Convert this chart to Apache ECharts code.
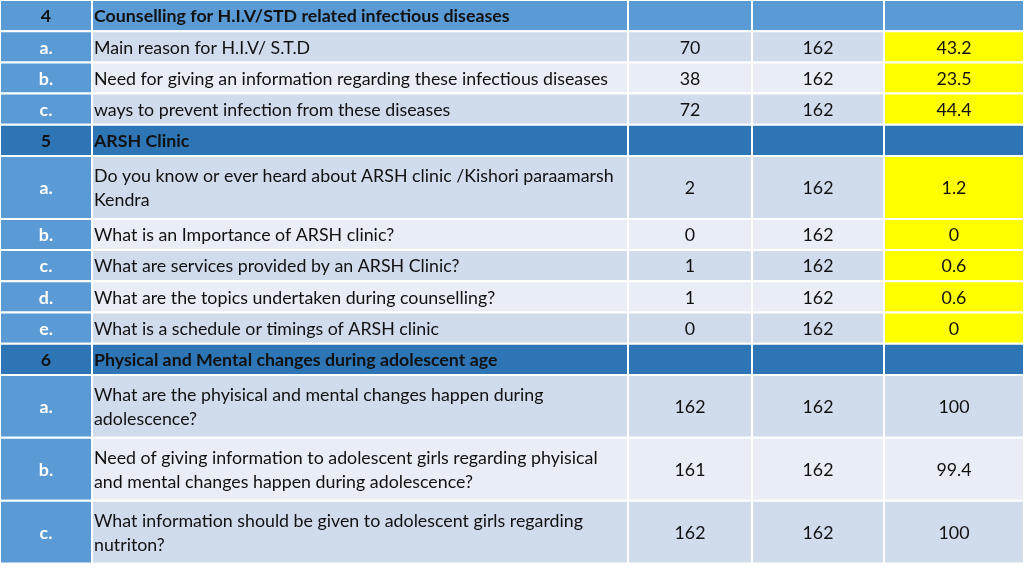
<!DOCTYPE html>
<html><head><meta charset="utf-8">
<script src="https://cdn.jsdelivr.net/npm/echarts@6/dist/echarts.min.js"></script>
<style>html,body{margin:0;padding:0;background:#fff}#c{width:1024px;height:576px}</style>
</head><body><div id="c"></div>
<script>
// ---- data ----
const rowIds = ['4','a.','b.','c.','5','a.','b.','c.','d.','e.','6','a.','b.','c.'];
const rowTexts = [
  'Counselling for H.I.V/STD related infectious diseases',
  'Main reason for H.I.V/ S.T.D',
  'Need for giving an information regarding these infectious diseases',
  'ways to prevent infection from these diseases',
  'ARSH Clinic',
  'Do you know or ever heard about ARSH clinic /Kishori paraamarsh\nKendra',
  'What is an Importance of ARSH clinic?',
  'What are services provided by an ARSH Clinic?',
  'What are the topics undertaken during counselling?',
  'What is a schedule or timings of ARSH clinic',
  'Physical and Mental changes during adolescent age',
  'What are the phyisical and mental changes happen during\nadolescence?',
  'Need of giving information to adolescent girls regarding phyisical\nand mental changes happen during adolescence?',
  'What information should be given to adolescent girls regarding\nnutriton?'
];
const yesCounts = [null,70,38,72,null,2,0,1,1,0,null,162,161,162];
const totals    = [null,162,162,162,null,162,162,162,162,162,null,162,162,162];
const percents  = [null,43.2,23.5,44.4,null,1.2,0,0.6,0.6,0,null,100,99.4,100];
const highlightedSections = ['4','5'];

// ---- layout ----
const colEdges = [0,92,628,752,884,1024];
const lineUnit = 31.2;
const rowHeights = rowTexts.map(t => t.split('\n').length === 1 ? lineUnit : 2 * lineUnit + 0.5);
const rowTops = [];
let acc = 0;
rowHeights.forEach(h => { rowTops.push(acc); acc += h; });
const isHeader = rowIds.map(id => /^\d+$/.test(id));
const sectionOf = [];
let cur = null;
rowIds.forEach(id => { if (/^\d+$/.test(id)) cur = id; sectionOf.push(cur); });
const shade = [];
let k = 0;
rowIds.forEach((id, i) => { if (isHeader[i]) { k = 0; shade.push(-1); } else { shade.push(k % 2); k++; } });

const cells = [];
rowIds.forEach((id, r) => { for (let c = 0; c < 5; c++) cells.push([c, r]); });

function cellText(c, r) {
  if (c === 0) return rowIds[r];
  if (c === 1) return rowTexts[r];
  if (c === 2) return yesCounts[r] == null ? '' : String(yesCounts[r]);
  if (c === 3) return totals[r] == null ? '' : String(totals[r]);
  return percents[r] == null ? '' : String(percents[r]);
}

const FONT = 'Lato, "Open Sans", sans-serif';

const chart = echarts.init(document.getElementById('c'), null, {renderer: 'canvas'});
chart.setOption({
  animation: false,
  grid: {left: 0, right: 0, top: 0, bottom: 0},
  xAxis: {type: 'value', min: 0, max: 1024, show: false},
  yAxis: {type: 'value', min: 0, max: 576, inverse: true, show: false},
  series: [{
    type: 'custom',
    coordinateSystem: 'cartesian2d',
    data: cells,
    renderItem: function (params, api) {
      const c = api.value(0), r = api.value(1);
      const p0 = api.coord([colEdges[c], rowTops[r]]);
      const p1 = api.coord([colEdges[c + 1], rowTops[r] + rowHeights[r]]);
      const x = p0[0], y = p0[1], w = p1[0] - p0[0], h = p1[1] - p0[1];
      let fill;
      const hdr = isHeader[r];
      if (hdr) fill = rowIds[r] === '4' ? '#5b9bd5' : '#2e75b6';
      else if (c === 0) fill = '#5b9bd5';
      else if (c === 4 && highlightedSections.indexOf(sectionOf[r]) >= 0) fill = '#ffff00';
      else fill = shade[r] === 0 ? '#d0dbeb' : '#e9edf6';
      const children = [{
        type: 'rect',
        shape: {x: x, y: y, width: w, height: h},
        style: {fill: fill, stroke: '#ffffff', lineWidth: 2}
      }];
      const t = cellText(c, r);
      if (t) {
        const left = c === 1;
        children.push({
          type: 'text',
          style: {
            text: t,
            x: left ? x + 2 : x + w / 2,
            y: y + h / 2 + 1,
            align: left ? 'left' : 'center',
            verticalAlign: 'middle',
            fontFamily: FONT,
            fontSize: 17.8,
            lineHeight: 24.5,
            fontWeight: (hdr || c === 0) ? 'bold' : 'normal',
            fill: (c === 0 && !hdr) ? '#ffffff' : '#111111'
          }
        });
      }
      return {type: 'group', children: children};
    }
  }]
});
</script></body></html>
